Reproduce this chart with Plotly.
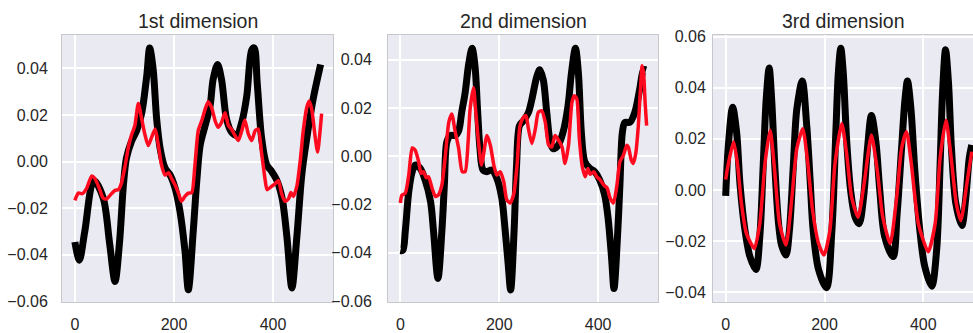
import plotly.graph_objects as go

# ---------------- data ----------------
titles = ["1st dimension", "2nd dimension", "3rd dimension"]
x_tick_vals = [0, 200, 400]
x_tick_text = ["0", "200", "400"]
y_tick_vals_12 = [-0.06, -0.04, -0.02, 0.0, 0.02, 0.04]
y_tick_vals_3 = [-0.04, -0.02, 0.0, 0.02, 0.04, 0.06]

# 1st dimension
d1_black_x = [0, 9, 20, 38, 57, 70, 81, 90, 98, 104, 114, 125, 135, 145, 151, 158, 165, 172, 182, 192, 202, 212,
              222, 229, 239, 246, 253, 263, 273, 279, 288, 296, 306, 316, 327, 337, 347, 357, 362, 368, 377, 387,
              397, 407, 418, 428, 438, 448, 458, 468, 481, 496]
d1_black_y = [-0.0346, -0.0424, -0.030, -0.0082, -0.0155, -0.035, -0.0516, -0.035, -0.010, 0.0014, 0.0085, 0.0134,
              0.021, 0.0367, 0.0488, 0.0396, 0.0184, 0.0057, -0.0028, -0.0057, -0.0113, -0.0212, -0.038, -0.0551,
              -0.0297, -0.0085, 0.0071, 0.0155, 0.024, 0.0353, 0.0417, 0.0353, 0.0184, 0.0127, 0.0113, 0.017,
              0.0283, 0.048, 0.0488, 0.0339, 0.0099, -0.0014, -0.0042, -0.0078, -0.0155, -0.0325, -0.0544, -0.0325,
              -0.0057, 0.0099, 0.0269, 0.0417]
d1_red_x = [0, 7, 15, 24, 34, 40, 49, 57, 64, 74, 81, 88, 94, 101, 108, 114, 121, 128, 135, 141, 148, 155, 162,
            168, 175, 182, 189, 195, 202, 209, 215, 222, 229, 236, 242, 249, 256, 263, 269, 276, 283, 289, 296,
            303, 310, 316, 323, 330, 337, 343, 350, 357, 364, 370, 377, 384, 388, 397, 404, 411, 417, 424, 431,
            436, 441, 448, 455, 461, 468, 473, 478, 485, 490, 495, 498]
d1_red_y = [-0.0167, -0.0136, -0.0138, -0.0114, -0.0062, -0.0072, -0.0114, -0.0157, -0.0161, -0.0138, -0.0124,
            -0.0121, -0.0093, -0.0023, 0.0062, 0.0112, 0.0154, 0.0250, 0.0182, 0.0119, 0.0069, 0.0105, 0.014,
            0.0076, -0.0016, -0.0058, -0.0048, -0.0072, -0.010, -0.0136, -0.0171, -0.015, -0.0136, -0.0133,
            -0.0023, 0.0133, 0.0175, 0.0225, 0.0257, 0.0232, 0.0175, 0.0147, 0.0168, 0.021, 0.0154, 0.014,
            0.0112, 0.009, 0.0133, 0.0178, 0.0119, 0.009, 0.0133, 0.014, 0.0034, -0.0079, -0.0121, -0.0107,
            -0.0096, -0.0082, -0.0136, -0.0171, -0.0161, -0.0133, -0.015, -0.0107, 0.0006, 0.0133, 0.0232,
            0.026, 0.0225, 0.0105, 0.0041, 0.0133, 0.0206]

# 2nd dimension
d2_black_x = [0, 5, 10, 17, 24, 30, 40, 50, 61, 67, 76, 84, 89, 94, 101, 111, 118, 124, 131, 138, 145, 151, 156,
              161, 167, 175, 185, 195, 205, 212, 218, 223, 230, 235, 241, 249, 259, 266, 276, 282, 289, 296, 303,
              309, 319, 329, 339, 346, 354, 360, 366, 373, 383, 393, 403, 413, 420, 427, 432, 439, 444, 449, 454,
              464, 474, 484, 492, 497]
d2_black_y = [-0.0391, -0.039, -0.0309, -0.0146, -0.0064, -0.0037, -0.005, -0.0098, -0.0187, -0.0309, -0.0507,
              -0.0309, -0.0119, 0.0059, 0.0086, 0.0086, 0.0106, 0.0181, 0.0263, 0.0379, 0.0447, 0.0372, 0.0195,
              0.0031, -0.0057, -0.0064, -0.0057, -0.0091, -0.0173, -0.0309, -0.0446, -0.0554, -0.0309, -0.0037,
              0.0127, 0.0147, 0.0181, 0.0236, 0.0331, 0.0358, 0.0317, 0.0181, 0.0059, 0.0031, 0.0045, 0.0099,
              0.0208, 0.0345, 0.0447, 0.0345, 0.0099, -0.0023, -0.005, -0.0064, -0.0098, -0.0159, -0.0255,
              -0.0418, -0.0548, -0.0337, -0.0119, 0.0099, 0.014, 0.014, 0.0181, 0.0277, 0.0358, 0.0358]
d2_red_x = [0, 3, 10, 17, 24, 30, 37, 42, 47, 52, 57, 64, 71, 77, 84, 91, 98, 104, 111, 118, 125, 131, 137, 141,
            148, 152, 158, 164, 168, 175, 182, 189, 195, 202, 209, 215, 222, 229, 236, 242, 249, 254, 259, 266,
            273, 279, 286, 293, 300, 306, 313, 320, 327, 333, 340, 347, 352, 357, 362, 368, 374, 379, 384, 391,
            397, 404, 411, 418, 424, 431, 438, 444, 451, 458, 461, 467, 471, 476, 481, 485, 489, 492, 495, 498]
d2_red_y = [-0.0194, -0.0162, -0.0153, -0.0078, 0.0034, 0.0025, -0.0023, -0.0071, -0.0064, -0.0089, -0.0085,
            -0.0132, -0.0167, -0.016, -0.0119, 0.0004, 0.0141, 0.0175, 0.010, 0.0031, -0.0064, -0.0064, 0.0059,
            0.0195, 0.0283, 0.0195, 0.0059, -0.0037, 0.0004, 0.0086, 0.0045, -0.0037, -0.0078, -0.0064, -0.0105,
            -0.018, -0.0194, -0.016, -0.0037, 0.0127, 0.0161, 0.0168, 0.0113, 0.0052, 0.0113, 0.0182, 0.0188,
            0.0141, 0.0045, 0.0038, 0.0086, 0.0066, 0.0038, -0.003, 0.0045, 0.0223, 0.025, 0.0236, 0.0072,
            -0.0044, -0.0085, -0.0051, -0.0075, -0.0064, -0.0085, -0.0098, -0.0119, -0.0132, -0.0173, -0.0194,
            -0.0119, -0.0023, 0.0004, 0.0045, 0.0038, -0.0016, -0.003, 0.0011, 0.012, 0.026, 0.0375, 0.034,
            0.022, 0.0127]

# 3rd dimension
d3_black_x = [0, 5, 14, 22, 29, 39, 49, 61, 69, 76, 82, 88, 93, 100, 107, 113, 122, 129, 137, 144, 155, 164, 171,
              177, 188, 204, 215, 223, 228, 233, 238, 245, 253, 262, 270, 279, 287, 295, 304, 312, 322, 339, 347,
              356, 363, 368, 375, 383, 393, 403, 417, 427, 434, 439, 445, 451, 457, 466, 478, 486, 493, 498]
d3_black_y = [-0.0023, 0.0163, 0.0324, 0.0228, 0.0022, -0.0158, -0.0261, -0.0312, -0.0184, 0.0099, 0.0356, 0.0478,
              0.0356, 0.0073, -0.0132, -0.0216, -0.0255, -0.0158, 0.0099, 0.0317, 0.0427, 0.0253, 0.0035, -0.0158,
              -0.0312, -0.0383, -0.0158, 0.0228, 0.0459, 0.0555, 0.0459, 0.0189, -0.0004, -0.0107, -0.0132,
              -0.003, 0.0163, 0.0292, 0.0189, -0.0004, -0.0184, -0.0261, -0.0094, 0.0163, 0.0356, 0.0427, 0.0317,
              0.0073, -0.0158, -0.030, -0.0377, -0.0235, 0.0099, 0.0382, 0.0549, 0.042, 0.0163, -0.0055, -0.0139,
              -0.003, 0.0125, 0.0176]
d3_red_x = [0, 5, 16, 24, 32, 42, 58, 69, 80, 90, 98, 109, 122, 134, 144, 156, 165, 176, 188, 199, 211, 221, 235,
            245, 255, 268, 280, 295, 307, 318, 333, 346, 356, 366, 376, 390, 410, 424, 434, 446, 455, 467, 476,
            488, 498]
d3_red_y = [0.0041, 0.0099, 0.0189, 0.0099, -0.0055, -0.0171, -0.0229, -0.0132, 0.0112, 0.0234, 0.0099, -0.0132,
            -0.0216, -0.003, 0.0163, 0.024, 0.0125, -0.0081, -0.021, -0.0255, -0.0158, 0.0099, 0.026, 0.0138,
            -0.003, -0.0107, 0.0022, 0.0215, 0.0073, -0.0107, -0.021, -0.003, 0.0163, 0.0228, 0.0099, -0.0132,
            -0.0242, -0.0132, 0.0125, 0.0273, 0.015, -0.0055, -0.012, 0.0022, 0.015]

series = [
    (d1_black_x, d1_black_y, d1_red_x, d1_red_y),
    (d2_black_x, d2_black_y, d2_red_x, d2_red_y),
    (d3_black_x, d3_black_y, d3_red_x, d3_red_y),
]
y_tick_sets = [y_tick_vals_12, y_tick_vals_12, y_tick_vals_3]


def fmt(v):
    s = f"{abs(v):.2f}"
    return ("\u2212" + s) if v < 0 else s


# ---------------- layout ----------------
W, H = 973, 333
TOP, BOTTOM = 35, 306
domains_px = [(62, 333), (388, 658), (713, 973)]
x_ranges = [[-26, 521], [-25, 521], [-25.7, 500.6]]
y_ranges = [[-0.0604, 0.0544], [-0.0604, 0.0502], [-0.0439, 0.0607]]

FONT = "Liberation Sans, Arial, sans-serif"
TXT = "#262626"
BG = "#eaeaf2"
EDGE = "#c8c8cc"
BLACK = "#000000"
RED = "#ff0a1f"
TICK_SIZE = 16

fig = go.Figure()
for i, (bx, by, rx, ry) in enumerate(series):
    sfx = "" if i == 0 else str(i + 1)
    fig.add_trace(go.Scatter(x=bx, y=by, mode="lines", xaxis="x" + sfx, yaxis="y" + sfx,
                             line=dict(color=BLACK, width=7, shape="spline", smoothing=0.9),
                             showlegend=False, hoverinfo="skip"))
    fig.add_trace(go.Scatter(x=rx, y=ry, mode="lines", xaxis="x" + sfx, yaxis="y" + sfx,
                             line=dict(color=RED, width=3.5, shape="spline", smoothing=0.6),
                             showlegend=False, hoverinfo="skip"))

layout = dict(
    width=W, height=H,
    margin=dict(l=0, r=0, t=TOP, b=H - BOTTOM, pad=0),
    paper_bgcolor="white", plot_bgcolor=BG,
    font=dict(family=FONT, color=TXT, size=TICK_SIZE),
    annotations=[],
)
for i in range(3):
    sfx = "" if i == 0 else str(i + 1)
    x0, x1 = domains_px[i]
    last = (i == 2)
    yt = y_tick_sets[i]
    layout["xaxis" + sfx] = dict(
        domain=[x0 / W, x1 / W], range=x_ranges[i], anchor="y" + sfx,
        tickmode="array", tickvals=x_tick_vals, ticktext=x_tick_text,
        showgrid=True, gridcolor="white", gridwidth=1.6, zeroline=False,
        showline=True, linecolor=EDGE, linewidth=1, mirror=True,
        ticks="outside", ticklen=8, tickcolor="rgba(0,0,0,0)",
        tickfont=dict(size=TICK_SIZE, color=TXT, family=FONT),
    )
    layout["yaxis" + sfx] = dict(
        domain=[0, 1], range=y_ranges[i], anchor="x" + sfx,
        tickmode="array", tickvals=yt, ticktext=[fmt(v) for v in yt],
        showgrid=True, gridcolor="white", gridwidth=1.6, zeroline=False,
        showline=True, linecolor=EDGE, linewidth=1, mirror=(not last),
        ticks="outside", ticklen=(10 if i == 0 else (12 if i == 1 else 3)), tickcolor="rgba(0,0,0,0)",
        tickfont=dict(size=TICK_SIZE, color=TXT, family=FONT),
    )
    layout["annotations"].append(dict(
        text=titles[i], xref="paper", yref="paper", x=(x0 + x1) / 2 / W, y=1,
        xanchor="center", yanchor="middle", yshift=14, showarrow=False,
        font=dict(size=19.5, color=TXT, family=FONT),
    ))

fig.update_layout(**layout)
fig.write_html("out.html")
